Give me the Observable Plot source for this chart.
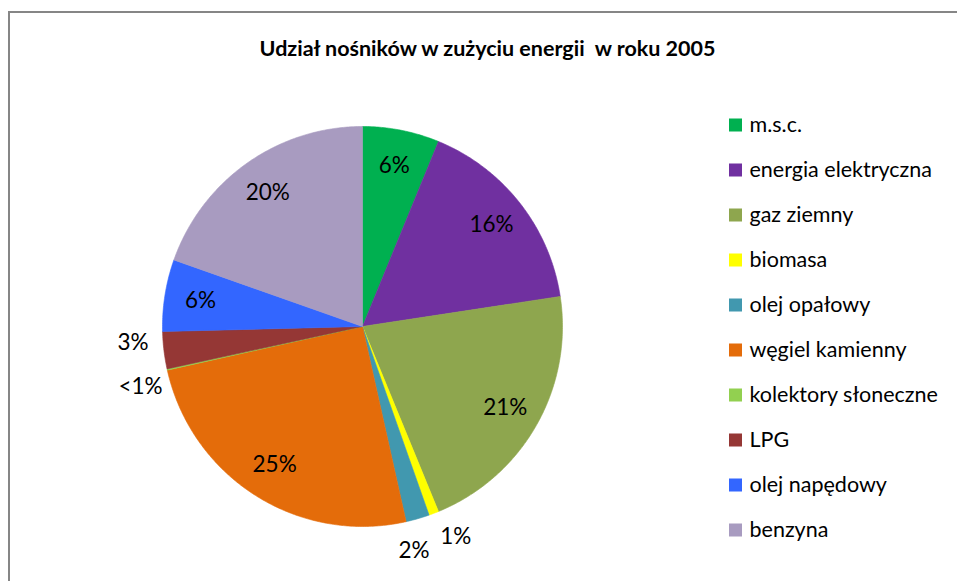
<!DOCTYPE html>
<html>
<head>
<meta charset="utf-8">
<script src="https://cdn.jsdelivr.net/npm/d3@7"></script>
<script src="https://cdn.jsdelivr.net/npm/@observablehq/plot@0.6"></script>
<style>
  html, body { margin: 0; padding: 0; background: #fff; }
  #wrap { position: relative; width: 957px; height: 581px; overflow: hidden; }
  #frame { position: absolute; left: 8px; top: 11px; width: 960px; height: 600px;
           border-left: 2px solid #868686; border-top: 2px solid #868686; }
  #chart { position: absolute; left: 0; top: 0; }
</style>
</head>
<body>
<div id="wrap"><div id="frame"></div><div id="chart"></div></div>
<script>
const title = "Udział nośników w zużyciu energii  w roku 2005";
const categories = ["m.s.c.", "energia elektryczna", "gaz ziemny", "biomasa", "olej opałowy",
  "węgiel kamienny", "kolektory słoneczne", "LPG", "olej napędowy", "benzyna"];
const values = [6.2, 16.4, 21.2, 0.8, 1.9, 25.0, 0.1, 3.0, 5.8, 19.6];
const colors = ["#00B050", "#7030A0", "#8EA64E", "#FFFF00", "#4198AF",
  "#E46C0A", "#92D050", "#953735", "#3366FF", "#A89BC0"];

// layout
const W = 957, H = 581;
const cx = 362, cy = 326, R = 200;
const font = "Lato, 'Open Sans', sans-serif";

const pie = d3.pie().sort(null).value(d => d.value);
const data = categories.map((name, i) => ({name, value: values[i]}));
const arcs = pie(data);

// polygon points for each slice
const slicePts = [];
arcs.forEach(a => {
  const n = Math.max(2, Math.ceil((a.endAngle - a.startAngle) / (Math.PI / 360)));
  slicePts.push({name: a.data.name, x: cx, y: cy});
  for (let k = 0; k <= n; k++) {
    const t = a.startAngle + (a.endAngle - a.startAngle) * k / n;
    slicePts.push({name: a.data.name, x: cx + R * Math.sin(t), y: cy - R * Math.cos(t)});
  }
  slicePts.push({name: a.data.name, x: cx, y: cy});
});

// label angles; spread adjacent outside labels apart
const minSep = 11 * Math.PI / 180;
const lab = arcs.map(a => ({
  ang: (a.startAngle + a.endAngle) / 2,
  outside: a.data.value < 4,
  v: a.data.value
}));
for (let i = 0; i < lab.length - 1; i++) {
  const p = lab[i], q = lab[i + 1];
  if (p.outside && q.outside && q.ang - p.ang < minSep) {
    const m = (p.ang + q.ang) / 2;
    p.ang = m - minSep / 2; q.ang = m + minSep / 2;
  }
}
const labels = lab.map(l => {
  const rr = l.outside ? R * 1.15 : R * 0.82;
  return {
    x: cx + rr * Math.sin(l.ang),
    y: cy - rr * Math.cos(l.ang),
    text: l.v < 0.5 ? "<1%" : Math.round(l.v) + "%"
  };
});

const legend = categories.map((name, i) => ({name, i, y: 125 + i * 45}));

const chart = Plot.plot({
  width: W, height: H,
  margin: 0,
  x: {domain: [0, W], range: [0, W], axis: null},
  y: {domain: [0, H], range: [0, H], axis: null},
  color: {domain: categories, range: colors},
  style: {fontFamily: font, background: "transparent"},
  marks: [
    Plot.line(slicePts, {x: "x", y: "y", z: "name", fill: "name", stroke: "name", strokeWidth: 0.6, curve: "linear"}),
    Plot.text(labels, {x: "x", y: "y", text: "text", fontSize: 22.5, fill: "#000", textAnchor: "middle", lineAnchor: "middle"}),
    Plot.text([title], {x: () => 487, y: () => 49, text: d => d, fontSize: 21.5, fontWeight: "bold", fill: "#000", textAnchor: "middle", lineAnchor: "middle"}),
    Plot.rect(legend, {x1: () => 729, x2: () => 742, y1: d => d.y - 6.5, y2: d => d.y + 6.5, fill: "name"}),
    Plot.text(legend, {x: () => 749, y: "y", text: "name", fontSize: 21.5, fill: "#000", textAnchor: "start", lineAnchor: "middle"})
  ]
});
document.getElementById("chart").appendChild(chart);
</script>
</body>
</html>
